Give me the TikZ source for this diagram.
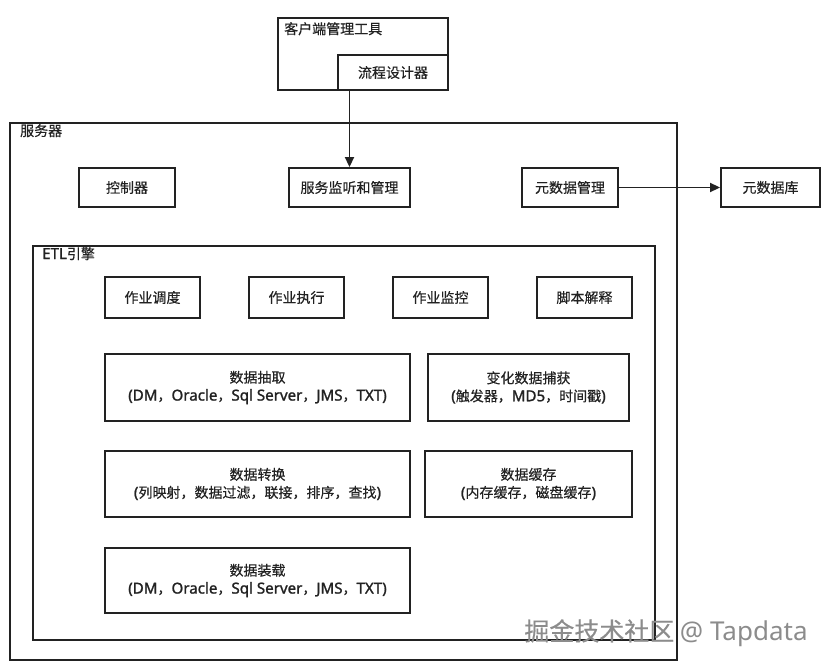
\documentclass[tikz,border=0pt]{standalone}
\usepackage{fontspec}
\setmainfont[FakeBold=0.35]{Noto Sans CJK SC}
\newfontfamily\latf[Scale=1.04]{Noto Sans}
\newfontfamily\lat[Scale=1.08,FakeBold=1.3]{Noto Sans}
\usetikzlibrary{arrows.meta}
\definecolor{ln}{HTML}{222222}
\definecolor{tx}{HTML}{222222}
\begin{document}
\begin{tikzpicture}[x=1pt,y=-1pt,
  box/.style={draw=ln,line width=1.9pt,fill=white,inner sep=0pt,text=tx,align=center,
    font=\fontsize{14}{18}\selectfont},
  ttl/.style={anchor=north west,inner sep=0pt,text=tx,font=\fontsize{14}{16}\selectfont},
  arr/.style={draw=ln,line width=1.9pt,-{Triangle[length=10pt,width=9pt]}}]
\useasboundingbox (0,0) rectangle (828,669);
% client tool
\node[box,minimum width=170pt,minimum height=72pt] (client) at (363,54) {};
\node[ttl] (clientt) at (284,22) {客户端管理工具};
\node[box,minimum width=110pt,minimum height=35pt] (designer) at (393,72.5) {流程设计器};
% server
\node[box,minimum width=667pt,minimum height=537pt] (server) at (343.5,391.5) {};
\node[ttl] (servert) at (20,124) {服务器};
\node[box,minimum width=96pt,minimum height=39pt] (ctrl) at (127,187.5) {控制器};
\node[box,minimum width=121pt,minimum height=39pt] (monitor) at (349.5,187.5) {服务监听和管理};
\node[box,minimum width=96pt,minimum height=39pt] (meta) at (570,187.5) {元数据管理};
\node[box,minimum width=99pt,minimum height=39pt] (metadb) at (770.5,187.5) {元数据库};
% ETL
\node[box,minimum width=622pt,minimum height=394pt] (etl) at (344,443) {};
\node[ttl] (etlt) at (42,247) {{\lat ETL}引擎};
\node[box,minimum width=95pt,minimum height=41pt] (j1) at (152.5,297.5) {作业调度};
\node[box,minimum width=95pt,minimum height=41pt] (j2) at (296.5,297.5) {作业执行};
\node[box,minimum width=95pt,minimum height=41pt] (j3) at (440.5,297.5) {作业监控};
\node[box,minimum width=95pt,minimum height=41pt] (j4) at (584.5,297.5) {脚本解释};
\node[box,minimum width=305pt,minimum height=67pt] (extract) at (257.5,387.5) {数据抽取\\{\lat(DM}，{\lat Oracle}，{\lat Sql Server}，{\lat JMS}，{\lat TXT)}};
\node[box,minimum width=201pt,minimum height=67pt] (cdc) at (528.5,387.5) {变化数据捕获\\{\lat(}触发器，{\lat MD5}，时间戳{\lat)}};
\node[box,minimum width=305pt,minimum height=66pt] (transform) at (257.5,484) {数据转换\\{\lat(}列映射，数据过滤，联接，排序，查找{\lat)}};
\node[box,minimum width=207pt,minimum height=66pt] (cache) at (528.5,484) {数据缓存\\{\lat(}内存缓存，磁盘缓存{\lat)}};
\node[box,minimum width=305pt,minimum height=65pt] (load) at (257.5,580.5) {数据装载\\{\lat(DM}，{\lat Oracle}，{\lat Sql Server}，{\lat JMS}，{\lat TXT)}};
% connectors
\draw[arr] (monitor.north |- designer.south) -- (monitor.north);
\draw[arr] (meta.east) -- (metadb.west);
% watermark
\node[anchor=center,inner sep=0pt,text=black!45,font=\fontsize{25}{28}\selectfont] (wm) at (666,633) {掘金技术社区 {\latf @ Tapdata}};
\end{tikzpicture}
\end{document}
